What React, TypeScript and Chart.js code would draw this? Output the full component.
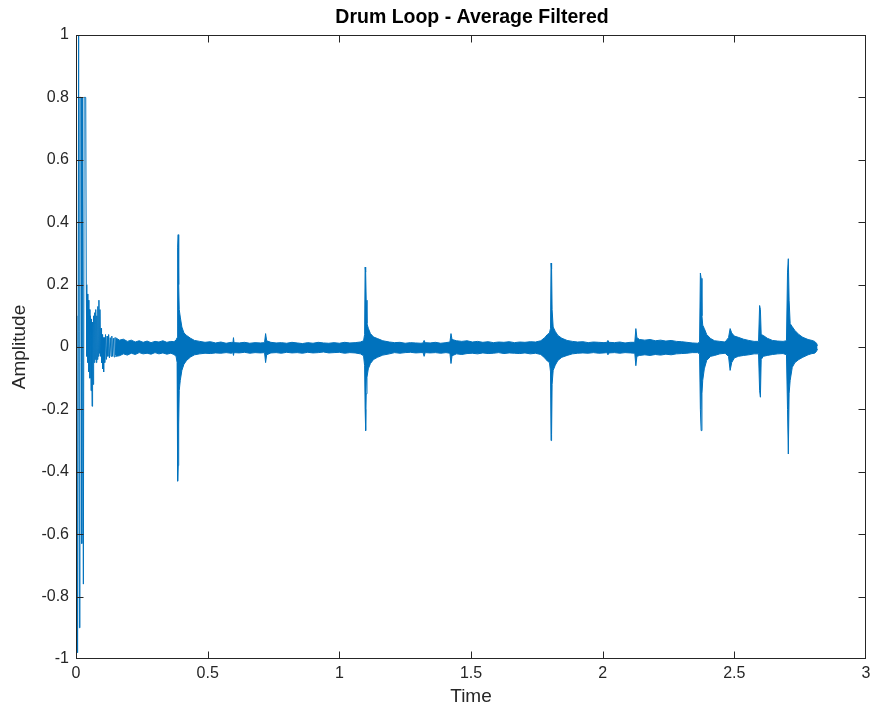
import React, { useEffect, useRef } from "react";
import { Chart, registerables } from "chart.js";

Chart.register(...registerables);

// ---- Data ----
const titleText = "Drum Loop - Average Filtered";
const xLabel = "Time";
const yLabel = "Amplitude";

const xTicks = [0, 0.5, 1, 1.5, 2, 2.5, 3];
const yTicks = [-1, -0.8, -0.6, -0.4, -0.2, 0, 0.2, 0.4, 0.6, 0.8, 1];

// opening hit: individual swings (seconds, amplitude)
const attackTime = [
  0, 0.003, 0.006, 0.01, 0.013, 0.015, 0.019, 0.022, 0.024, 0.026, 0.028, 0.031, 0.037, 0.039,
  0.041, 0.043, 0.045, 0.047, 0.049, 0.051, 0.053, 0.055, 0.057, 0.059, 0.061, 0.063,
  0.065, 0.067, 0.069, 0.071, 0.073, 0.075, 0.077, 0.079, 0.081, 0.083, 0.085, 0.087,
  0.089, 0.091, 0.093, 0.095, 0.097, 0.099, 0.101, 0.103, 0.105, 0.107, 0.109, 0.112,
  0.115, 0.118, 0.121, 0.124, 0.127, 0.13, 0.133, 0.136, 0.139, 0.142, 0.145, 0.148,
  0.151, 0.154, 0.157,
];
const attackAmp = [
  0, 0.1, -0.98, 1.0, -0.9, 0.8, 0.8, -0.63, 0.8, 0.8, -0.76, 0.8, 0.8, 0.2,
  -0.03, 0.17, -0.05, 0.15, -0.08, 0.12, -0.1, 0.1, -0.14, 0.09, -0.19, 0.08,
  -0.12, 0.1, -0.05, 0.11, -0.04, 0.12, -0.05, 0.1, -0.04, 0.13, -0.03, 0.15,
  -0.02, 0.12, -0.03, 0.06, -0.05, 0.04, -0.07, 0.03, -0.08, 0.03, -0.05, 0.04,
  -0.04, 0.035, -0.03, 0.04, -0.035, 0.03, -0.03, 0.035, -0.03, 0.028, -0.032, 0.03,
  -0.026, 0.025, -0.025,
];

// rest of the loop: upper / lower envelope of the dense waveform
const envTime = [
  0.15, 0.165, 0.18, 0.195, 0.21, 0.225, 0.24, 0.255, 0.27, 0.285, 0.3, 0.315, 0.33, 0.345, 0.36, 0.372, 0.38,
  0.384, 0.386, 0.388, 0.39, 0.392, 0.396, 0.402, 0.41, 0.42, 0.435, 0.45, 0.47, 0.49, 0.51, 0.53, 0.55, 0.57, 0.59,
  0.596, 0.598, 0.6, 0.62, 0.64, 0.66, 0.68, 0.7, 0.716, 0.72, 0.724, 0.74, 0.76,
  0.78, 0.8, 0.82, 0.84, 0.86, 0.88, 0.9, 0.92, 0.94, 0.96, 0.98, 1.0, 1.02, 1.04, 1.06, 1.08, 1.092,
  1.096, 1.098, 1.1, 1.102, 1.105, 1.11, 1.118, 1.13, 1.145, 1.165, 1.19, 1.21, 1.23, 1.25, 1.27, 1.29, 1.31,
  1.318, 1.322, 1.326, 1.345, 1.365, 1.385, 1.405, 1.42, 1.424, 1.428, 1.445, 1.465, 1.485, 1.505, 1.525, 1.545,
  1.565, 1.585, 1.605, 1.625, 1.645, 1.665, 1.685, 1.705, 1.725, 1.745, 1.765, 1.78, 1.79, 1.798, 1.802,
  1.804, 1.806, 1.808, 1.812, 1.82, 1.83, 1.845, 1.865, 1.885, 1.905, 1.925, 1.945, 1.965, 1.985, 2.005, 2.016,
  2.02, 2.024, 2.045, 2.065, 2.085, 2.105, 2.122, 2.126, 2.13,
  2.14, 2.16, 2.18, 2.2, 2.22, 2.24, 2.26, 2.28, 2.3, 2.32, 2.34, 2.36, 2.368,
  2.371, 2.374, 2.377, 2.38, 2.386, 2.395, 2.41, 2.425, 2.445, 2.465, 2.478, 2.484, 2.49, 2.5, 2.515, 2.535, 2.555, 2.575, 2.592,
  2.596, 2.599, 2.602, 2.61, 2.625, 2.645, 2.665, 2.685, 2.698, 2.702, 2.705, 2.708, 2.712, 2.72, 2.73, 2.745, 2.76, 2.78, 2.795, 2.805, 2.812, 2.816,
];
const envUpper = [
  0.03, 0.022, 0.025, 0.018, 0.022, 0.016, 0.02, 0.015, 0.019, 0.014, 0.018, 0.016, 0.02, 0.015, 0.018, 0.017, 0.022,
  0.03, 0.32, 0.36, 0.2, 0.12, 0.096, 0.064, 0.045, 0.037, 0.028, 0.021, 0.018, 0.015, 0.017, 0.013, 0.016, 0.012, 0.015,
  0.014, 0.03, 0.014, 0.013, 0.015, 0.012, 0.014, 0.013, 0.014, 0.043, 0.02, 0.015, 0.013,
  0.014, 0.012, 0.015, 0.013, 0.011, 0.014, 0.012, 0.015, 0.013, 0.012, 0.014, 0.012, 0.015, 0.013, 0.014, 0.016, 0.02,
  0.04, 0.256, 0.24, 0.15, 0.075, 0.06, 0.043, 0.032, 0.027, 0.02, 0.016, 0.014, 0.015, 0.012, 0.014, 0.013, 0.012,
  0.013, 0.021, 0.014, 0.013, 0.015, 0.012, 0.014, 0.016, 0.043, 0.024, 0.02, 0.018, 0.02, 0.016, 0.018, 0.015,
  0.017, 0.014, 0.016, 0.015, 0.017, 0.014, 0.016, 0.015, 0.017, 0.016, 0.02, 0.03, 0.04, 0.045, 0.06,
  0.269, 0.25, 0.12, 0.064, 0.05, 0.037, 0.028, 0.021, 0.018, 0.016, 0.017, 0.014, 0.016, 0.015, 0.014, 0.015,
  0.021, 0.015, 0.014, 0.016, 0.013, 0.015, 0.015, 0.059, 0.03,
  0.024, 0.022, 0.024, 0.02, 0.022, 0.019, 0.021, 0.018, 0.017, 0.015, 0.013, 0.012, 0.015,
  0.237, 0.22, 0.1, 0.07, 0.059, 0.04, 0.027, 0.02, 0.018, 0.016, 0.03, 0.059, 0.045, 0.035, 0.031, 0.025, 0.021, 0.018, 0.018,
  0.133, 0.12, 0.04, 0.037, 0.028, 0.021, 0.019, 0.018, 0.02, 0.24, 0.283, 0.15, 0.075, 0.065, 0.053, 0.04, 0.031, 0.024, 0.021, 0.018, 0.012, 0.004,
];
const envLower = [
  -0.03, -0.028, -0.022, -0.026, -0.02, -0.024, -0.018, -0.022, -0.02, -0.023, -0.018, -0.022, -0.019, -0.023, -0.02, -0.024, -0.03,
  -0.05, -0.43, -0.38, -0.25, -0.14, -0.107, -0.075, -0.055, -0.043, -0.032, -0.025, -0.022, -0.02, -0.021, -0.019, -0.02, -0.018, -0.02,
  -0.018, -0.027, -0.018, -0.019, -0.017, -0.02, -0.018, -0.019, -0.018, -0.05, -0.025, -0.019, -0.018,
  -0.02, -0.017, -0.019, -0.018, -0.02, -0.017, -0.019, -0.018, -0.016, -0.019, -0.018, -0.017, -0.02, -0.018, -0.019, -0.022, -0.028,
  -0.06, -0.2, -0.268, -0.15, -0.097, -0.07, -0.053, -0.04, -0.033, -0.026, -0.022, -0.018, -0.02, -0.018, -0.017, -0.019, -0.018,
  -0.018, -0.03, -0.018, -0.019, -0.018, -0.02, -0.018, -0.02, -0.053, -0.028, -0.022, -0.024, -0.021, -0.02, -0.022, -0.019,
  -0.021, -0.02, -0.018, -0.021, -0.019, -0.02, -0.021, -0.019, -0.022, -0.02, -0.024, -0.035, -0.045, -0.05, -0.08,
  -0.3, -0.28, -0.12, -0.075, -0.058, -0.043, -0.033, -0.027, -0.022, -0.02, -0.019, -0.02, -0.018, -0.02, -0.019, -0.018,
  -0.025, -0.019, -0.018, -0.02, -0.018, -0.019, -0.02, -0.06, -0.03,
  -0.027, -0.025, -0.027, -0.024, -0.026, -0.023, -0.025, -0.022, -0.021, -0.02, -0.018, -0.018, -0.022,
  -0.2, -0.268, -0.15, -0.107, -0.07, -0.043, -0.03, -0.027, -0.022, -0.02, -0.03, -0.075, -0.05, -0.035, -0.03, -0.027, -0.025, -0.022, -0.022,
  -0.14, -0.161, -0.04, -0.03, -0.027, -0.024, -0.022, -0.021, -0.025, -0.2, -0.343, -0.15, -0.107, -0.065, -0.05, -0.04, -0.033, -0.025, -0.021, -0.02, -0.014, -0.006,
];

// ---- Styles ----
const LINE_COLOR = "#0072BD";
const AXIS_COLOR = "#262626";
const FONT = '"Liberation Sans", Arial, Helvetica, sans-serif';
const TICK_LEN = 7;

const framePlugin = {
  id: "matlabFrame",
  afterDraw(chart: any) {
    const { ctx, chartArea: a, scales } = chart;
    const xs = scales.x;
    const ys = scales.y;
    const L = Math.round(a.left) + 0.5;
    const R = Math.round(a.right) - 0.5;
    const T = Math.round(a.top) + 0.5;
    const B = Math.round(a.bottom) - 0.5;
    const clampX = (p: number) => Math.min(R, Math.max(L, Math.round(p) + 0.5));
    const clampY = (p: number) => Math.min(B, Math.max(T, Math.round(p) + 0.5));
    ctx.save();
    ctx.strokeStyle = AXIS_COLOR;
    ctx.lineWidth = 1;
    ctx.strokeRect(L, T, R - L, B - T);
    ctx.beginPath();
    xTicks.forEach((v) => {
      const px = clampX(xs.getPixelForValue(v));
      ctx.moveTo(px, B);
      ctx.lineTo(px, B - TICK_LEN);
      ctx.moveTo(px, T);
      ctx.lineTo(px, T + TICK_LEN);
    });
    yTicks.forEach((v) => {
      const py = clampY(ys.getPixelForValue(v));
      ctx.moveTo(L, py);
      ctx.lineTo(L + TICK_LEN, py);
      ctx.moveTo(R, py);
      ctx.lineTo(R - TICK_LEN, py);
    });
    ctx.stroke();

    const cx = (a.left + a.right) / 2;
    const cy = (a.top + a.bottom) / 2;
    ctx.textAlign = "center";
    ctx.textBaseline = "middle";
    ctx.fillStyle = "#000000";
    ctx.font = `bold 19.5px ${FONT}`;
    ctx.fillText(titleText, cx + 1, 18);

    ctx.fillStyle = AXIS_COLOR;
    ctx.font = `19px ${FONT}`;
    ctx.fillText(xLabel, cx, 697);

    ctx.translate(20, cy);
    ctx.rotate(-Math.PI / 2);
    ctx.fillText(yLabel, 0, 0);
    ctx.restore();
  },
};

export default function App() {
  const ref = useRef<HTMLCanvasElement>(null);

  useEffect(() => {
    document.body.style.margin = "0";
    const canvas = ref.current;
    if (!canvas) return;

    const attackData = attackTime.map((t, i) => ({ x: t, y: attackAmp[i] }));
    const upperData = envTime.map((t, i) => ({ x: t, y: envUpper[i] }));
    const lowerData = envTime.map((t, i) => ({ x: t, y: envLower[i] }));

    const chart = new Chart(canvas, {
      type: "line",
      data: {
        datasets: [
          {
            data: attackData,
            borderColor: LINE_COLOR,
            borderWidth: 1,
            pointRadius: 0,
            fill: false,
            tension: 0,
          },
          {
            data: upperData,
            borderColor: LINE_COLOR,
            backgroundColor: LINE_COLOR,
            borderWidth: 1,
            pointRadius: 0,
            fill: "+1",
            tension: 0,
          },
          {
            data: lowerData,
            borderColor: LINE_COLOR,
            backgroundColor: LINE_COLOR,
            borderWidth: 1,
            pointRadius: 0,
            fill: false,
            tension: 0,
          },
        ],
      },
      options: {
        animation: false,
        responsive: false,
        events: [],
        layout: { padding: { left: 0, top: 35, right: 8, bottom: 0 } },
        plugins: {
          legend: { display: false },
          title: { display: false },
          tooltip: { enabled: false },
        },
        scales: {
          x: {
            type: "linear",
            min: 0,
            max: 3,
            border: { display: false },
            grid: { display: false, drawTicks: false },
            afterBuildTicks: (s: any) => {
              s.ticks = xTicks.map((v) => ({ value: v }));
            },
            afterFit: (s: any) => {
              s.height = 52;
              s.paddingLeft = 0;
              s.paddingRight = 0;
            },
            ticks: {
              padding: 5,
              maxRotation: 0,
              autoSkip: false,
              color: AXIS_COLOR,
              font: { family: FONT, size: 16 },
              callback: (v: any) => String(v),
            },
          },
          y: {
            type: "linear",
            min: -1,
            max: 1,
            border: { display: false },
            grid: { display: false, drawTicks: false },
            afterBuildTicks: (s: any) => {
              s.ticks = yTicks.map((v) => ({ value: v }));
            },
            afterFit: (s: any) => {
              s.width = 76;
              s.paddingTop = 0;
              s.paddingBottom = 0;
            },
            ticks: {
              padding: 7,
              autoSkip: false,
              color: AXIS_COLOR,
              font: { family: FONT, size: 16 },
              callback: (v: any) => String(v),
            },
          },
        },
      },
      plugins: [framePlugin],
    });

    return () => chart.destroy();
  }, []);

  return (
    <div style={{ width: 874, height: 711, background: "#ffffff" }}>
      <canvas ref={ref} width={874} height={711} style={{ display: "block" }} />
    </div>
  );
}
